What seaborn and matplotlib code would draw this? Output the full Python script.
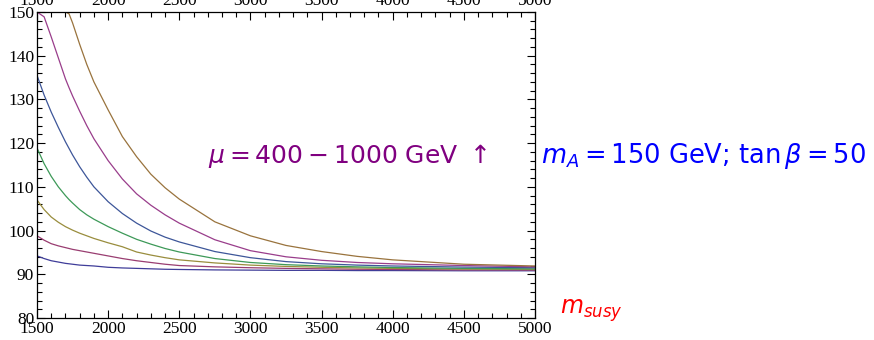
import matplotlib

matplotlib.use("Agg")

import matplotlib.pyplot as plt
import pandas as pd
import seaborn as sns
from matplotlib.ticker import MultipleLocator

# m_susy grid (GeV) and light Higgs mass curves, mu = 400 ... 1000 GeV
m_susy = [1500, 1550, 1600, 1650, 1700, 1725, 1750, 1800, 1850, 1900, 2000, 2100,
          2200, 2300, 2400, 2500, 2750, 3000, 3250, 3500, 3750, 4000, 4500, 5000]
mu_values = ["400", "500", "600", "700", "800", "900", "1000"]

mh_400 = [94.2, 93.6, 93.1, 92.8, 92.5, 92.4, 92.3, 92.1, 92.0, 91.9, 91.6, 91.45,
          91.35, 91.25, 91.15, 91.1, 91.0, 90.95, 90.9, 90.9, 90.85, 90.85, 90.8, 90.8]
mh_500 = [98.8, 97.8, 97.0, 96.5, 96.1, 95.9, 95.7, 95.4, 95.1, 94.8, 94.2, 93.6,
          93.1, 92.7, 92.3, 92.0, 91.7, 91.5, 91.35, 91.25, 91.15, 91.1, 91.0, 90.95]
mh_600 = [107.0, 104.8, 103.1, 101.9, 100.9, 100.5, 100.1, 99.4, 98.8, 98.2, 97.2, 96.3,
          95.1, 94.4, 93.8, 93.3, 92.6, 92.1, 91.8, 91.6, 91.45, 91.35, 91.2, 91.1]
mh_700 = [118.9, 115.3, 112.4, 110.0, 108.0, 107.1, 106.3, 104.8, 103.6, 102.6, 100.9, 99.4,
          98.0, 96.9, 95.9, 95.1, 93.6, 92.7, 92.2, 91.9, 91.7, 91.55, 91.35, 91.25]
mh_800 = [135.5, 131.0, 127.1, 123.6, 120.3, 118.8, 117.3, 114.6, 112.2, 110.0, 106.6, 103.9,
          101.7, 99.9, 98.5, 97.4, 95.2, 93.8, 92.9, 92.4, 92.1, 91.9, 91.65, 91.5]
mh_900 = [150.0, 148.9, 144.3, 139.5, 134.7, 132.7, 130.8, 127.3, 124.0, 121.0, 116.0, 111.8,
          108.4, 105.8, 103.6, 101.7, 97.9, 95.4, 94.0, 93.2, 92.7, 92.4, 92.0, 91.7]
mh_1000 = [150.0, 150.0, 150.0, 150.0, 150.0, 149.6, 147.5, 142.6, 138.0, 134.0, 127.6, 121.5,
           116.9, 112.9, 109.8, 107.2, 102.0, 98.8, 96.6, 95.2, 94.1, 93.3, 92.3, 91.9]

curves = [mh_400, mh_500, mh_600, mh_700, mh_800, mh_900, mh_1000]

# Mathematica default plot colours
colors = [(0.247, 0.24, 0.6), (0.6, 0.24, 0.443), (0.6, 0.553, 0.24),
          (0.24, 0.6, 0.347), (0.24, 0.339, 0.6), (0.6, 0.24, 0.545),
          (0.6, 0.452, 0.24)]

df = pd.DataFrame(
    [
        {"m_susy": x, "m_h": y, "mu": mu}
        for mu, values in zip(mu_values, curves)
        for x, y in zip(m_susy, values)
    ]
)

sns.set_theme(style="ticks")
plt.rcParams["font.family"] = ["DejaVu Sans"]
plt.rcParams["mathtext.fontset"] = "dejavusans"

fig = plt.figure(figsize=(8.74, 3.4), dpi=100)
ax = fig.add_axes([37 / 874, 1 - 318 / 340, 498 / 874, 306 / 340])

sns.lineplot(
    data=df, x="m_susy", y="m_h", hue="mu", hue_order=mu_values,
    palette=colors, linewidth=0.9, legend=False, ax=ax,
)

ax.set_xlim(1500, 5000)
ax.set_ylim(80, 150)
ax.set_xlabel("")
ax.set_ylabel("")
ax.xaxis.set_major_locator(MultipleLocator(500))
ax.xaxis.set_minor_locator(MultipleLocator(100))
ax.yaxis.set_major_locator(MultipleLocator(10))
ax.yaxis.set_minor_locator(MultipleLocator(2))
ax.tick_params(which="both", direction="in", top=True, right=True,
               labeltop=True, width=0.8, colors="black", pad=2)
ax.tick_params(which="major", length=6)
ax.tick_params(which="minor", length=3.5)
for label in ax.get_xticklabels() + ax.get_yticklabels():
    label.set_family("Liberation Serif")
    label.set_fontsize(12.5)
for spine in ax.spines.values():
    spine.set_linewidth(0.9)
    spine.set_color("black")

fig.text(348 / 874, 1 - 156 / 340, r"$\mu = 400 - 1000$ GeV $\uparrow$",
         color="#800080", fontsize=18, ha="center", va="center")
fig.text(541 / 874, 1 - 156 / 340, r"$m_A = 150$ GeV; tan$\,\beta = 50$",
         color="blue", fontsize=18.5, ha="left", va="center")
fig.text(560 / 874, 1 - 311 / 340, r"$m_{susy}$",
         color="red", fontsize=17, ha="left", va="center")

fig.savefig("out.png", dpi=100)
plt.close(fig)
